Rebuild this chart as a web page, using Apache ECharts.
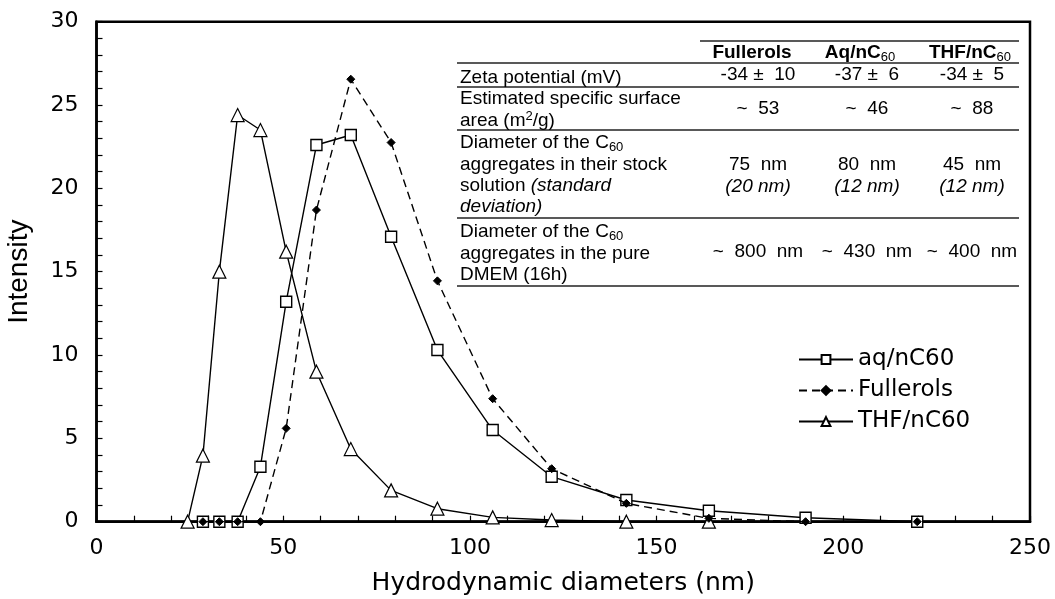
<!DOCTYPE html>
<html>
<head>
<meta charset="utf-8">
<script src="https://cdn.jsdelivr.net/npm/echarts@6/dist/echarts.min.js"></script>
<style>
  html, body { margin: 0; padding: 0; background: #fff; }
  #chart { width: 1055px; height: 599px; }
</style>
</head>
<body>
<div id="chart"></div>
<script>
// hydrodynamic diameter bins (nm)
var thfX = [24.4, 28.5, 32.9, 37.8, 43.9, 50.8, 58.9, 68.1, 78.9, 91.3, 106.1, 121.9, 141.9, 164.0];
var thfY = [0, 3.96, 15.0, 24.4, 23.5, 16.2, 9.0, 4.36, 1.88, 0.78, 0.26, 0.1, 0, 0];

var aqX = [28.5, 32.9, 37.8, 43.9, 50.8, 58.9, 68.1, 78.9, 91.3, 106.1, 121.9, 141.9, 164.0, 189.9, 219.8];
var aqY = [0, 0, 0, 3.3, 13.2, 22.6, 23.2, 17.1, 10.3, 5.5, 2.7, 1.3, 0.66, 0.24, 0];

var fullX = [28.5, 32.9, 37.8, 43.9, 50.8, 58.9, 68.1, 78.9, 91.3, 106.1, 121.9, 141.9, 164.0, 189.9, 219.8];
var fullY = [0, 0, 0, 0, 5.6, 18.7, 26.55, 22.75, 14.45, 7.38, 3.18, 1.1, 0.2, 0, 0];

// inset table text
var tableHead = ['Fullerols', 'Aq/nC{sub|60}', 'THF/nC{sub|60}'];
var rowLabels = [
  ['Zeta potential (mV)'],
  ['Estimated specific surface', 'area (m{sup|2}/g)'],
  ['Diameter of the C{sub|60}', 'aggregates in their stock', 'solution {it|(standard}', '{it|deviation)}'],
  ['Diameter of the C{sub|60}', 'aggregates in the pure', 'DMEM (16h)']
];
var rowValues = [
  [['-34 \u00b1  10'], ['-37 \u00b1  6'], ['-34 \u00b1  5']],
  [['~  53'], ['~  46'], ['~  88']],
  [['75  nm', '{it|(20 nm)}'], ['80  nm', '{it|(12 nm)}'], ['45  nm', '{it|(12 nm)}']],
  [['~  800  nm'], ['~  430  nm'], ['~  400  nm']]
];

function pair(xs, ys) {
  return xs.map(function (x, i) { return [x, ys[i]]; });
}

var tableFont = 'Liberation Sans, Arial, sans-serif';
var rich = {
  sub: { fontSize: 13, lineHeight: 12, verticalAlign: 'bottom', fontFamily: tableFont },
  sup: { fontSize: 13, lineHeight: 12, verticalAlign: 'top', fontFamily: tableFont },
  it: { fontSize: 19, fontStyle: 'italic', fontFamily: tableFont }
};

function txt(str, x, y, align, bold) {
  return {
    type: 'text', x: x, y: y, z: 100,
    style: {
      text: str, fill: '#000', fontSize: 19, fontFamily: tableFont,
      fontWeight: bold ? 'bold' : 'normal',
      textAlign: align, textVerticalAlign: 'middle', lineHeight: 21,
      rich: rich
    }
  };
}
function hline(x1, x2, y) {
  return {
    type: 'line', z: 100,
    shape: { x1: x1, y1: y, x2: x2, y2: y },
    style: { stroke: '#222', lineWidth: 1.3 }
  };
}

// table layout
var tblLeft = 457, tblRight = 1019, labelX = 460;
var headX = [752, 860, 970];
var colX = [758, 867, 972];
var sepY = [63, 87, 130, 218, 286];
var rowStart = [78, 99, 143, 232];
var lineStep = 21.3;

var els = [];
els.push(hline(700, tblRight, 41));
sepY.forEach(function (y) { els.push(hline(tblLeft, tblRight, y)); });
tableHead.forEach(function (h, i) { els.push(txt(h, headX[i], 53, 'center', true)); });
rowLabels.forEach(function (lines, r) {
  lines.forEach(function (l, k) { els.push(txt(l, labelX, rowStart[r] + k * lineStep, 'left', false)); });
  var mid = (sepY[r] + sepY[r + 1]) / 2;
  rowValues[r].forEach(function (vals, c) {
    var y0 = mid - (vals.length - 1) * lineStep / 2;
    if (r === 2) y0 = 165;
    vals.forEach(function (v, k) { els.push(txt(v, colX[c], y0 + k * lineStep, 'center', false)); });
  });
});

var chart = echarts.init(document.getElementById('chart'));
var axisFont = 'DejaVu Sans, Verdana, sans-serif';

chart.setOption({
  animation: false,
  backgroundColor: '#fff',
  grid: {
    left: 96.5, right: 25, top: 21.7, bottom: 77.3,
    outerBoundsMode: 'none', containLabel: false,
    show: true, borderColor: '#000', borderWidth: 2.5, backgroundColor: 'transparent'
  },
  legend: {
    orient: 'vertical',
    left: 798, top: 348, padding: 0,
    itemWidth: 54, itemHeight: 11, itemGap: 8,
    textStyle: { fontFamily: axisFont, fontSize: 23, color: '#000' },
    data: ['aq/nC60', 'Fullerols', 'THF/nC60']
  },
  xAxis: {
    type: 'value', min: 0, max: 250, interval: 50,
    name: 'Hydrodynamic diameters (nm)', nameLocation: 'middle', nameGap: 49,
    nameTextStyle: { fontFamily: axisFont, fontSize: 25, color: '#000' },
    axisLine: { lineStyle: { color: '#000', width: 2.5 } },
    axisTick: { inside: true, length: 6, lineStyle: { color: '#000', width: 1.2 } },
    minorTick: { show: true, splitNumber: 5, length: 6, lineStyle: { color: '#000', width: 1.2 } },
    axisLabel: { fontFamily: axisFont, fontSize: 22, color: '#000', margin: 16 },
    splitLine: { show: false }
  },
  yAxis: {
    type: 'value', min: 0, max: 30, interval: 5,
    name: 'Intensity', nameLocation: 'middle', nameGap: 63, nameRotate: 90,
    nameTextStyle: { fontFamily: tableFont, fontSize: 28, color: '#000' },
    axisLine: { lineStyle: { color: '#000', width: 2.5 } },
    axisTick: { inside: true, length: 6, lineStyle: { color: '#000', width: 1.2 } },
    minorTick: { show: true, splitNumber: 5, length: 6, lineStyle: { color: '#000', width: 1.2 } },
    axisLabel: { fontFamily: axisFont, fontSize: 22, color: '#000', margin: 18 },
    splitLine: { show: false }
  },
  series: [
    {
      name: 'aq/nC60', type: 'line', data: pair(aqX, aqY),
      symbol: 'rect', symbolSize: 11, z: 3,
      lineStyle: { color: '#000', width: 1.4 },
      itemStyle: { color: '#fff', borderColor: '#000', borderWidth: 1.4 }
    },
    {
      name: 'Fullerols', type: 'line', data: pair(fullX, fullY),
      symbol: 'diamond', symbolSize: 8, z: 4,
      lineStyle: { color: '#000', width: 1.4, type: [8, 5] },
      itemStyle: { color: '#000', borderColor: '#000', borderWidth: 1 }
    },
    {
      name: 'THF/nC60', type: 'line', data: pair(thfX, thfY),
      symbol: 'triangle', symbolSize: 13, z: 3,
      lineStyle: { color: '#000', width: 1.4 },
      itemStyle: { color: '#fff', borderColor: '#000', borderWidth: 1.2 }
    }
  ],
  graphic: { elements: els }
});
</script>
</body>
</html>
